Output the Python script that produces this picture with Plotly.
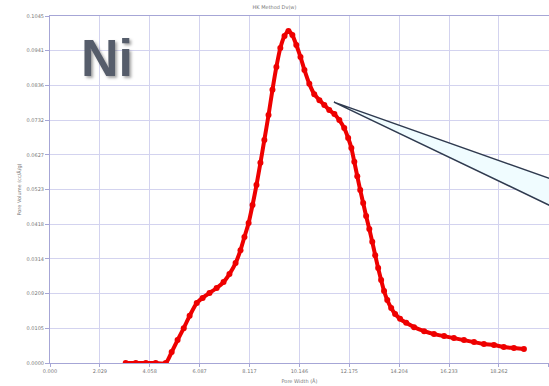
import plotly.graph_objects as go

# HK pore size distribution for the Ni sample
pore_width = [3.08, 3.49, 3.90, 4.30, 4.71, 4.95, 5.19, 5.44, 5.68, 5.97,
              6.21, 6.49, 6.78, 7.06, 7.30, 7.55, 7.75, 7.91, 8.08, 8.24,
              8.40, 8.56, 8.72, 8.89, 9.05, 9.21, 9.37, 9.54, 9.70, 9.86,
              10.02, 10.19, 10.35, 10.55, 10.75, 10.96, 11.16, 11.36, 11.57, 11.77,
              11.97, 12.13, 12.26, 12.38, 12.50, 12.62, 12.74, 12.86, 12.99, 13.11,
              13.23, 13.35, 13.47, 13.59, 13.72, 13.88, 14.04, 14.24, 14.49, 14.81,
              15.22, 15.62, 16.03, 16.43, 16.84, 17.25, 17.65, 18.06, 18.46, 18.87,
              19.28]
pore_volume = [0.0, 0.0, 0.0, 0.0, 0.0, 0.0033, 0.0069, 0.0105, 0.0142, 0.0181,
               0.0196, 0.0211, 0.0226, 0.0244, 0.0268, 0.0301, 0.0340, 0.0380, 0.0422, 0.0476,
               0.0536, 0.0603, 0.0672, 0.0747, 0.0823, 0.0892, 0.0949, 0.0985, 0.1000, 0.0988,
               0.0958, 0.0922, 0.0883, 0.0841, 0.0810, 0.0792, 0.0777, 0.0762, 0.0750, 0.0732,
               0.0708, 0.0678, 0.0648, 0.0606, 0.0563, 0.0521, 0.0482, 0.0443, 0.0404, 0.0365,
               0.0325, 0.0286, 0.0250, 0.0217, 0.0190, 0.0166, 0.0148, 0.0133, 0.0121, 0.0108,
               0.0096, 0.0087, 0.0081, 0.0075, 0.0069, 0.0063, 0.0057, 0.0054, 0.0048, 0.0045,
               0.0042]

x_tick_labels = ["0.000", "2.029", "4.058", "6.087", "8.117", "10.146",
                 "12.175", "14.204", "16.233", "18.262", "20.291"]
y_tick_labels = ["0.0000", "0.0105", "0.0209", "0.0314", "0.0418", "0.0523",
                 "0.0627", "0.0732", "0.0836", "0.0941", "0.1045"]

x_tick_vals = [float(t) for t in x_tick_labels]
y_tick_vals = [i * 0.010455 for i in range(len(y_tick_labels))]

fig = go.Figure()
fig.add_trace(go.Scatter(
    x=pore_width, y=pore_volume, mode="lines+markers",
    line=dict(color="#ee0000", width=4, shape="spline", smoothing=0.6),
    marker=dict(color="#ee0000", size=6),
    showlegend=False, hoverinfo="skip",
))

# callout wedge pointing at the shoulder of the peak
fig.add_shape(
    type="path", xref="x", yref="y",
    path="M 11.55 0.0786 L 21.2 0.0533 L 21.2 0.0444 Z",
    fillcolor="#f0fcff", line=dict(color="#2f3a4f", width=1.5), layer="above",
)

grid_color = "#d3d3ef"
axis_color = "#a6a6d6"
tick_font = dict(family="DejaVu Sans", size=5, color="#777777")

fig.update_xaxes(
    range=[0, 20.30], tickvals=x_tick_vals, ticktext=x_tick_labels,
    showgrid=True, gridcolor=grid_color, gridwidth=1,
    showline=True, linecolor=axis_color, linewidth=1, mirror=True,
    ticks="outside", ticklen=3, tickcolor=axis_color, tickfont=tick_font,
    zeroline=False,
    title=dict(text="Pore Width (Å)", font=dict(family="DejaVu Sans", size=5, color="#777777"),
               standoff=6),
)
fig.update_yaxes(
    range=[0, 0.10455], tickvals=y_tick_vals, ticktext=y_tick_labels,
    showgrid=True, gridcolor=grid_color, gridwidth=1,
    showline=True, linecolor=axis_color, linewidth=1, mirror=True,
    ticks="outside", ticklen=4, tickcolor=axis_color, tickfont=tick_font,
    zeroline=False,
    title=dict(text="Pore Volume (cc/Å/g)", font=dict(family="DejaVu Sans", size=5, color="#777777"),
               standoff=4),
)

fig.add_annotation(
    text="Ni", xref="paper", yref="paper", x=0.058, y=0.968,
    xanchor="left", yanchor="top", showarrow=False,
    font=dict(family="Liberation Sans", size=52, color="#565d6b", weight="bold",
              shadow="2px 2px 3px rgba(0,0,0,0.35)"),
)

fig.update_layout(
    width=549, height=386,
    margin=dict(l=50, r=0, t=16, b=23),
    paper_bgcolor="white", plot_bgcolor="white",
    title=dict(text="HK Method Dv(w)", x=0.5, xanchor="center", y=0.985, yanchor="top",
               font=dict(family="DejaVu Sans", size=5, color="#777777")),
)

fig.write_html("out.html")
